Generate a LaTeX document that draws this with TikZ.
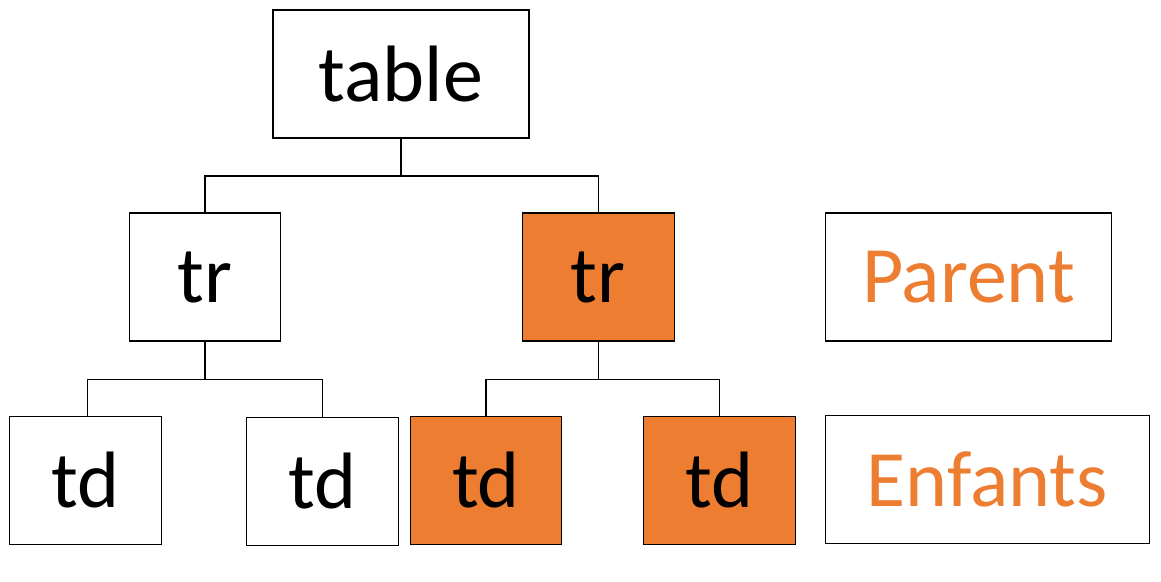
\documentclass[tikz,border=0pt]{standalone}
\usepackage{fontspec}
\setmainfont{Carlito}
\definecolor{office}{HTML}{ED7D31}
\begin{document}
\begin{tikzpicture}[x=1pt,y=-1pt,
  box/.style={draw=black,line width=1.3pt,inner sep=0pt,minimum height=128pt,font=\fontsize{80}{96}\selectfont},
  hot/.style={box,fill=office},
  legend/.style={box,text=office},
  conn/.style={draw=black,line width=1.1pt}]
\useasboundingbox (0,0) rectangle (1161,581);
\node[box,minimum width=256pt] (table) at (401,74) {table};
\node[box,minimum width=151pt] (trL) at (205,277) {tr};
\node[hot,minimum width=152pt] (trR) at (598.3,277) {tr};
\node[legend,minimum width=286pt] (parent) at (968.5,277) {Parent};
\node[box,minimum width=152pt] (td1) at (85.5,480.3) {td};
\node[box,minimum width=152pt] (td2) at (322.5,481.3) {td};
\node[hot,minimum width=151pt] (td3) at (486,480.3) {td};
\node[hot,minimum width=152pt] (td4) at (719.5,480.3) {td};
\node[legend,minimum width=324pt] (enfants) at (987.3,479.3) {Enfants};
\coordinate (j1) at (401,176);
\coordinate (j2) at (205,379.3);
\coordinate (j3) at (598.3,379.3);
\draw[conn] (table.south) -- (j1);
\draw[conn] (j1) -| (trL.north);
\draw[conn] (j1) -| (trR.north);
\draw[conn] (trL.south) -- (j2);
\draw[conn] (j2) -| (td1.north -| 87.3,0);
\draw[conn] (j2) -| (td2.north);
\draw[conn] (trR.south) -- (j3);
\draw[conn] (j3) -| (td3.north);
\draw[conn] (j3) -| (td4.north);
\end{tikzpicture}
\end{document}
